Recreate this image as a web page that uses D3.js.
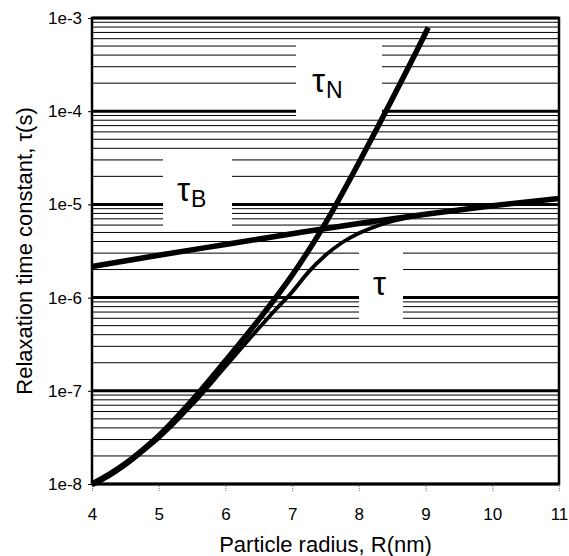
<!DOCTYPE html>
<html><head><meta charset="utf-8">
<script src="https://cdn.jsdelivr.net/npm/d3@7"></script>
<style>
body{margin:0;background:#fff;}
svg text{font-family:"Liberation Sans",Arial,sans-serif;fill:#000;}
</style></head>
<body><svg id="chart" width="569" height="556"></svg>
<script>
// ---- data ----
const xTicks = [4, 5, 6, 7, 8, 9, 10, 11];
const yTickLabels = ["1e-8", "1e-7", "1e-6", "1e-5", "1e-4", "1e-3"];
const yTickValues = [1e-8, 1e-7, 1e-6, 1e-5, 1e-4, 1e-3];

const radiusN = [4, 4.25, 4.5, 4.75, 5, 5.5, 6, 6.5, 7, 7.5, 8, 8.5, 9, 9.04];
const tauN    = [1.0e-8, 1.26e-8, 1.66e-8, 2.3e-8, 3.3e-8, 7.9e-8, 2.1e-7, 5.8e-7, 1.74e-6, 6.3e-6, 2.8e-5, 1.35e-4, 6.9e-4, 7.9e-4];

const radiusB = [4, 5, 6, 7, 8, 9, 10, 11];
const tauB    = [2.16e-6, 2.85e-6, 3.72e-6, 4.84e-6, 6.24e-6, 7.85e-6, 9.66e-6, 1.16e-5];

const radiusT = [4, 4.25, 4.5, 4.75, 5, 5.5, 6, 6.5, 6.75, 7, 7.25, 7.5, 7.75, 8, 8.25, 8.5, 9, 9.5, 10, 10.5, 11];
const tauT    = [9.6e-9, 1.2e-8, 1.58e-8, 2.19e-8, 3.09e-8, 7.08e-8, 1.82e-7, 4.68e-7, 7.4e-7, 1.15e-6, 1.9e-6, 2.85e-6, 3.9e-6, 4.9e-6, 5.8e-6, 6.6e-6, 7.76e-6, 8.68e-6, 9.66e-6, 1.06e-5, 1.16e-5];

const labels = [
  {main: "τ", sub: "N"},
  {main: "τ", sub: "B"},
  {main: "τ", sub: ""}
];

// ---- layout ----
const svg = d3.select("#chart");
const L = 92, R = 559, T = 18, B = 484;
const x = d3.scaleLinear().domain([4, 11]).range([L, R]);
const y = d3.scaleLog().domain([1e-8, 1e-3]).range([B, T]);

// grid lines
const minor = [];
yTickValues.slice(0, -1).forEach(d => { for (let k = 2; k <= 9; k++) minor.push(d * k); });
svg.append("g").selectAll("line").data(minor).join("line")
  .attr("x1", L).attr("x2", R).attr("y1", d => y(d)).attr("y2", d => y(d))
  .attr("stroke", "#000").attr("stroke-width", 1);
svg.append("g").selectAll("line").data(yTickValues).join("line")
  .attr("x1", L).attr("x2", R).attr("y1", d => y(d)).attr("y2", d => y(d))
  .attr("stroke", "#000").attr("stroke-width", 3);

// white label boxes
const boxG = svg.append("g");
boxG.append("rect").attr("x", 296).attr("y", 42).attr("width", 86).attr("height", 77).attr("fill", "#fff");
boxG.append("rect").attr("x", 163).attr("y", 157).attr("width", 69).attr("height", 73).attr("fill", "#fff");
boxG.append("rect").attr("x", 359).attr("y", 245).attr("width", 44).attr("height", 76).attr("fill", "#fff");

// label texts
const lpos = [[312, 92], [177, 201], [373, 295]];
labels.forEach((l, i) => {
  const t = svg.append("text").attr("x", lpos[i][0]).attr("y", lpos[i][1]);
  t.append("tspan").attr("font-size", 33).text(l.main);
  if (l.sub) t.append("tspan").attr("font-size", 23).attr("dy", 6).attr("dx", 1).text(l.sub);
});

// border
svg.append("rect").attr("x", L).attr("y", T).attr("width", R - L).attr("height", B - T)
  .attr("fill", "none").attr("stroke", "#000").attr("stroke-width", 2.5);

// curves
const line = d3.line().x(d => x(d[0])).y(d => y(d[1])).curve(d3.curveMonotoneX);
svg.append("path").datum(d3.zip(radiusB, tauB)).attr("d", line)
  .attr("fill", "none").attr("stroke", "#000").attr("stroke-width", 5.5);
svg.append("path").datum(d3.zip(radiusN, tauN)).attr("d", line)
  .attr("fill", "none").attr("stroke", "#000").attr("stroke-width", 5.5);
svg.append("path").datum(d3.zip(radiusT, tauT)).attr("d", line)
  .attr("fill", "none").attr("stroke", "#000").attr("stroke-width", 3.8);

// axes
const xa = svg.append("g").attr("transform", `translate(0,${B + 2})`)
  .call(d3.axisBottom(x).tickValues(xTicks).tickSize(5).tickPadding(17).tickFormat(d3.format("d")));
xa.select(".domain").remove();
xa.selectAll(".tick line").attr("stroke", "#777").attr("stroke-dasharray", "1,1");
xa.selectAll("text").attr("font-size", 17).style("font-family", "Liberation Sans, Arial, sans-serif");

const ya = svg.append("g").attr("transform", `translate(${L - 1},0)`)
  .call(d3.axisLeft(y).tickValues(yTickValues).tickSize(3).tickPadding(6).tickFormat((d, i) => yTickLabels[i]));
ya.select(".domain").remove();
ya.selectAll("text").attr("font-size", 17).style("font-family", "Liberation Sans, Arial, sans-serif");

// titles
svg.append("text").attr("x", (L + R) / 2).attr("y", 552).attr("text-anchor", "middle")
  .attr("font-size", 22).text("Particle radius, R(nm)");
svg.append("text").attr("transform", `translate(32,${(T + B) / 2}) rotate(-90)`).attr("text-anchor", "middle")
  .attr("font-size", 22).text("Relaxation time constant, τ(s)");
</script></body></html>
